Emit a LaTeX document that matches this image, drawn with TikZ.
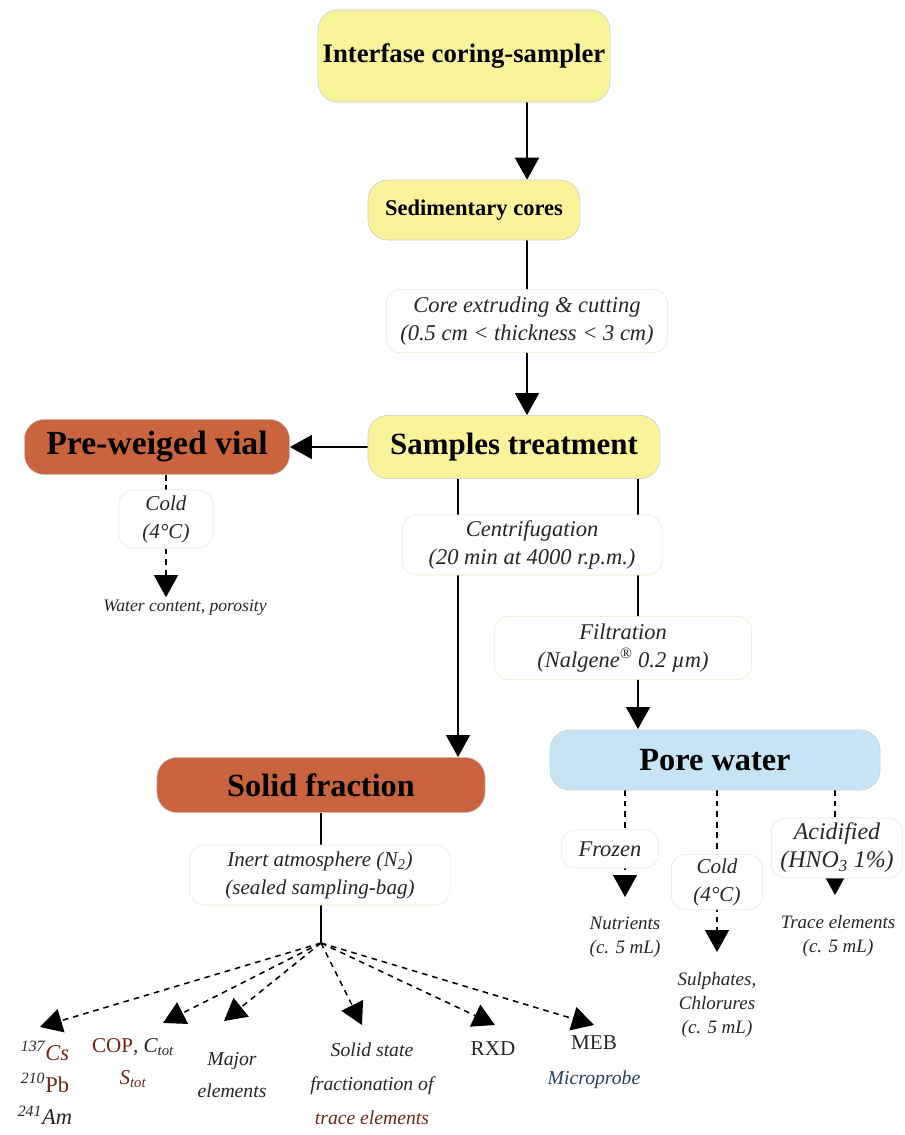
\documentclass[tikz,border=0pt]{standalone}
\usepackage{fontspec}
\setmainfont{Liberation Serif}
\usetikzlibrary{arrows.meta,backgrounds}
\definecolor{sandY}{RGB}{249,243,156}
\definecolor{rustB}{RGB}{201,100,62}
\definecolor{skyB}{RGB}{198,228,246}
\definecolor{darkred}{RGB}{110,40,25}
\definecolor{slateB}{RGB}{40,62,92}
\definecolor{faintE}{RGB}{238,232,205}

\begin{document}
\begin{tikzpicture}[x=0.025cm, y=-0.025cm,
    box/.style={rounded corners=0.5cm, draw=black!20, line width=0.4pt, inner sep=0pt},
    lbl/.style={rounded corners=0.35cm, draw=faintE, fill=white, align=center, inner sep=0pt,
        font=\itshape\fontsize{16}{20}\selectfont, text=black!85},
    txt/.style={align=center, inner sep=0pt, font=\itshape\fontsize{13.5}{17}\selectfont, text=black!85},
    arr/.style={-{Triangle[length=5.5mm,width=6mm]}, line width=1.1pt},
    darr/.style={arr, dash pattern=on 4pt off 3.5pt},
    link/.style={line width=1.1pt}]
    \useasboundingbox (0,0) rectangle (904,1135);

    % main boxes
    \node[box, fill=sandY, minimum width=7.3cm, minimum height=2.3cm,
        font=\bfseries\fontsize{19}{22}\selectfont] (corer) at (464,56) {Interfase coring-sampler};
    \node[box, fill=sandY, minimum width=5.3cm, minimum height=1.5cm,
        font=\bfseries\fontsize{16}{20}\selectfont] (sedi) at (474,210) {Sedimentary cores};
    \node[box, fill=sandY, minimum width=7.3cm, minimum height=1.58cm,
        font=\bfseries\fontsize{22}{26}\selectfont] (treat) at (514,447) {Samples treatment};
    \node[box, fill=rustB, minimum width=6.63cm, minimum height=1.38cm,
        font=\bfseries\fontsize{24}{28}\selectfont] (vial) at (157,447) {Pre-weiged vial};
    \node[box, fill=rustB, minimum width=8.2cm, minimum height=1.38cm,
        font=\bfseries\fontsize{23}{27}\selectfont] (solid) at (321,785) {Solid fraction};
    \node[box, fill=skyB, minimum width=8.25cm, minimum height=1.5cm,
        font=\bfseries\fontsize{23}{27}\selectfont] (pore) at (715,760) {Pore water};

    % treatment labels
    \node[lbl, minimum width=7.03cm, minimum height=1.58cm] (cut) at (527,321)
        {Core extruding \& cutting\\(0.5 cm < thickness < 3 cm)};
    \node[lbl, minimum width=2.35cm, minimum height=1.45cm, font=\itshape\fontsize{15}{20}\selectfont] (coldA) at (166,519)
        {Cold\\(4°C)};
    \node[lbl, minimum width=6.5cm, minimum height=1.5cm] (centr) at (532,545)
        {Centrifugation\\(20 min at 4000 r.p.m.)};
    \node[lbl, minimum width=6.43cm, minimum height=1.58cm] (filt) at (623,648)
        {Filtration\\(Nalgene\textsuperscript{\textregistered} 0.2 µm)};
    \node[lbl, minimum width=6.5cm, minimum height=1.5cm, font=\itshape\fontsize{15}{20}\selectfont] (inert) at (320,875)
        {Inert atmosphere (N\textsubscript{2})\\(sealed sampling-bag)};
    \node[lbl, minimum width=2.43cm, minimum height=0.95cm, font=\itshape\fontsize{16}{20}\selectfont] (frozen) at (610,849)
        {Frozen};
    \node[lbl, minimum width=2.28cm, minimum height=1.38cm, font=\itshape\fontsize{15}{20}\selectfont] (coldB) at (717,882)
        {Cold\\(4°C)};
    \node[lbl, minimum width=3.28cm, minimum height=1.5cm, font=\itshape\fontsize{17}{20}\selectfont] (acid) at (837,848)
        {Acidified\\(HNO\textsubscript{3} 1\%)};

    % end products
    \node[txt, font=\itshape\fontsize{12.5}{17}\selectfont] (water) at (185,608) {Water content, porosity};
    \node[txt] (nutr) at (625,937) {Nutrients\\(c. 5 mL)};
    \node[txt] (sulph) at (717,1005) {Sulphates,\\Chlorures\\(c. 5 mL)};
    \node[txt] (trace) at (838,936) {Trace elements\\(c. 5 mL)};
    \node[txt, font=\itshape\fontsize{16}{23}\selectfont] (radio) at (45,1083)
        {\textsuperscript{137}{\color{darkred}Cs}\\\textsuperscript{210}{\upshape\color{darkred}Pb}\\\textsuperscript{241}Am};
    \node[txt, font=\itshape\fontsize{15}{23}\selectfont] (cop) at (133,1063)
        {{\upshape\color{darkred}COP}, C\textsubscript{tot}\\{\color{darkred}S\textsubscript{tot}}};
    \node[txt, font=\itshape\fontsize{14}{23}\selectfont] (major) at (232,1075) {Major\\elements};
    \node[txt, font=\itshape\fontsize{14}{24}\selectfont] (ssf) at (372,1084) {Solid state\\fractionation of\\{\color{darkred}trace elements}};
    \node[txt, font=\upshape\fontsize{15}{23}\selectfont] (rxd) at (493,1049) {RXD};
    \node[txt, font=\itshape\fontsize{14}{25}\selectfont] (meb) at (594,1062) {{\upshape\fontsize{15}{25}\selectfont MEB}\\{\color{slateB}Microprobe}};

    % arrow ends
    \coordinate (fan) at (321,943);
    \coordinate (solidin) at (458,757);
    \coordinate (porein) at (638,729);
    \coordinate (tcs) at (40,1027);
    \coordinate (tcop) at (163,1023);
    \coordinate (tmaj) at (224,1021);
    \coordinate (tssf) at (362,1025);
    \coordinate (trxd) at (495,1025);
    \coordinate (tmeb) at (594,1025);
    \coordinate (tnut) at (625,897);
    \coordinate (tsul) at (717,952);
    \coordinate (ttra) at (835,895);

    \begin{scope}[on background layer]
        \draw[arr] (corer.south -| cut) -- (sedi.north -| cut);
        \draw[arr] (sedi.south -| cut) -- (treat.north -| cut);
        \draw[arr] (treat.west) -- (vial.east);
        \draw[darr] (coldA.north |- vial.south) -- ([yshift=2pt]water.north -| coldA);
        \draw[arr] (treat.south -| solidin) -- (solidin);
        \draw[arr] (treat.south -| porein) -- (porein);
        \draw[link] (solid.south) -- (fan);
        \foreach \t in {tcs,tcop,tmaj,tssf,trxd,tmeb}
            \draw[darr] (fan) -- (\t);
        \foreach \t in {tnut,tsul,ttra}
            \draw[darr] (pore.south -| \t) -- (\t);
    \end{scope}
\end{tikzpicture}
\end{document}
